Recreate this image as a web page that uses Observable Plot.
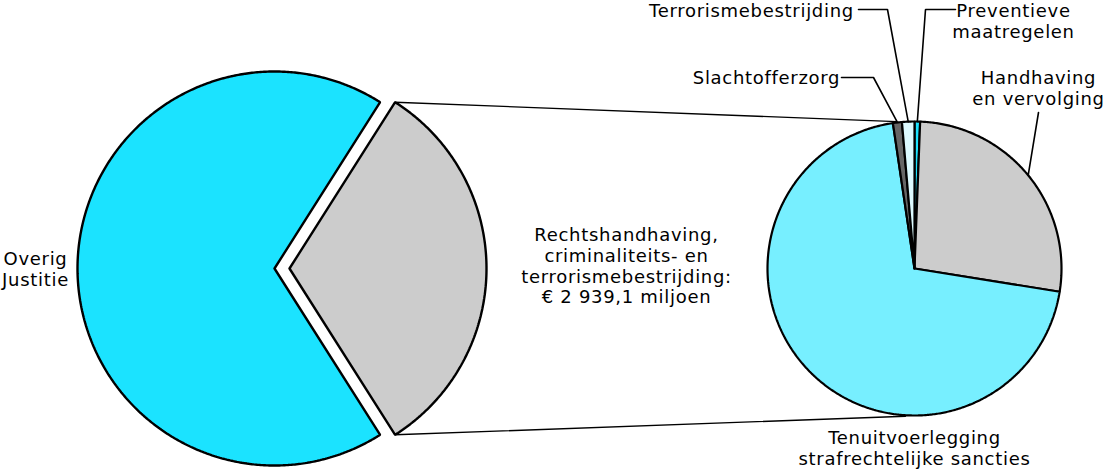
<!DOCTYPE html>
<html>
<head>
<meta charset="utf-8">
<script src="https://cdn.jsdelivr.net/npm/d3@7"></script>
<script src="https://cdn.jsdelivr.net/npm/@observablehq/plot@0.6"></script>
<style>
  html, body { margin: 0; padding: 0; background: #fff; }
</style>
</head>
<body>
<div id="chart"></div>
<script>
// ---- Data ----
const leftCategories = ["Overig Justitie", "Rechtshandhaving, criminaliteits- en terrorismebestrijding"];
const leftValues = [6250, 2939.1];
const leftColors = ["#1be3ff", "#cccccc"];

const rightCategories = ["Preventieve maatregelen", "Handhaving en vervolging", "Tenuitvoerlegging strafrechtelijke sancties", "Slachtofferzorg", "Terrorismebestrijding"];
const rightValues = [18, 791, 2061, 29, 40];
const rightColors = ["#1be3ff", "#cccccc", "#77efff", "#666666", "#dcfaff"];

const centerLabel = "Rechtshandhaving,\ncriminaliteits- en\nterrorismebestrijding:\n€ 2 939,1 miljoen";

// ---- Layout ----
const W = 1105, H = 469;
const L = {cx: 274, cy: 268, r: 197, explode: 15};
const R = {cx: 914, cy: 268, r: 147};

const rad = (a) => a * Math.PI / 180;
const pt = (cx, cy, r, a) => [cx + r * Math.sin(rad(a)), cy - r * Math.cos(rad(a))];

function slicePoly(cx, cy, r, a0, a1) {
  const pts = [[cx, cy]];
  const n = Math.max(2, Math.ceil((a1 - a0) / 0.5));
  for (let i = 0; i <= n; i++) pts.push(pt(cx, cy, r, a0 + (a1 - a0) * i / n));
  pts.push([cx, cy]);
  return pts.map(([x, y]) => ({x, y}));
}

// left pie angles: grey slice centred on the right (90°)
const leftTotal = d3.sum(leftValues);
const greySpan = leftValues[1] / leftTotal * 360;
const greyStart = 90 - greySpan / 2, greyEnd = 90 + greySpan / 2;
const leftSlices = [
  {a0: greyEnd, a1: greyStart + 360, cx: L.cx, cy: L.cy, color: leftColors[0]},
  {a0: greyStart, a1: greyEnd, cx: L.cx + L.explode, cy: L.cy, color: leftColors[1]}
];

// right pie angles, clockwise from top
const rightTotal = d3.sum(rightValues);
let acc = 0;
const rightSlices = rightValues.map((v, i) => {
  const a0 = acc / rightTotal * 360; acc += v;
  const a1 = acc / rightTotal * 360;
  return {a0, a1, mid: (a0 + a1) / 2, color: rightColors[i], name: rightCategories[i]};
});

const marks = [];
for (const s of leftSlices) {
  marks.push(Plot.line(slicePoly(s.cx, s.cy, L.r, s.a0, s.a1), {x: "x", y: "y", fill: s.color, stroke: "black", strokeWidth: 2.4, strokeLinejoin: "miter"}));
}
for (const s of rightSlices) {
  marks.push(Plot.line(slicePoly(R.cx, R.cy, R.r, s.a0, s.a1), {x: "x", y: "y", fill: s.color, stroke: "black", strokeWidth: 2.2, strokeLinejoin: "miter"}));
}

// connectors between the pies
const gTop = pt(L.cx + L.explode, L.cy, L.r, greyStart);
const gBot = pt(L.cx + L.explode, L.cy, L.r, greyEnd);
const rTop = pt(R.cx, R.cy, R.r + 1, -7);
const rBot = pt(R.cx, R.cy, R.r + 1, 183.5);
marks.push(Plot.line([gTop, rTop].map(([x, y]) => ({x, y})), {x: "x", y: "y", stroke: "black", strokeWidth: 1.4}));
marks.push(Plot.line([gBot, rBot].map(([x, y]) => ({x, y})), {x: "x", y: "y", stroke: "black", strokeWidth: 1.4}));

// leader lines
const byName = Object.fromEntries(rightSlices.map(s => [s.name, s]));
const edge = (name) => pt(R.cx, R.cy, R.r, byName[name].mid);
const leaders = [
  [[858, 9], [887, 9], edge("Terrorismebestrijding")],
  [[955, 9], [925, 9], edge("Preventieve maatregelen")],
  [[841, 77], [873, 77], edge("Slachtofferzorg")],
  [[1038, 112], edge("Handhaving en vervolging")]
];
for (const l of leaders) {
  marks.push(Plot.line(l.map(([x, y]) => ({x, y})), {x: "x", y: "y", stroke: "black", strokeWidth: 1.6, strokeLinejoin: "miter"}));
}

// labels
const labels = [
  {x: 35, y: 250, text: "Overig\nJustitie"},
  {x: 626, y: 226, text: centerLabel},
  {x: 751, y: 2, text: "Terrorismebestrijding"},
  {x: 1013, y: 2, text: "Preventieve\nmaatregelen"},
  {x: 766, y: 69, text: "Slachtofferzorg"},
  {x: 1038, y: 69, text: "Handhaving\nen vervolging"},
  {x: 914, y: 429, text: "Tenuitvoerlegging\nstrafrechtelijke sancties"}
];
marks.push(Plot.text(labels, {x: "x", y: "y", text: "text", textAnchor: "middle", lineAnchor: "top", lineHeight: 1.15, fontSize: 18, fill: "black"}));

const chart = Plot.plot({
  width: W, height: H, margin: 0,
  x: {domain: [0, W], range: [0, W], axis: null},
  y: {domain: [0, H], range: [0, H], axis: null},
  style: {fontFamily: "'DejaVu Sans', sans-serif", fontSize: "18px", letterSpacing: "0.7px", background: "white", overflow: "visible"},
  marks
});
document.getElementById("chart").appendChild(chart);
</script>
</body>
</html>
